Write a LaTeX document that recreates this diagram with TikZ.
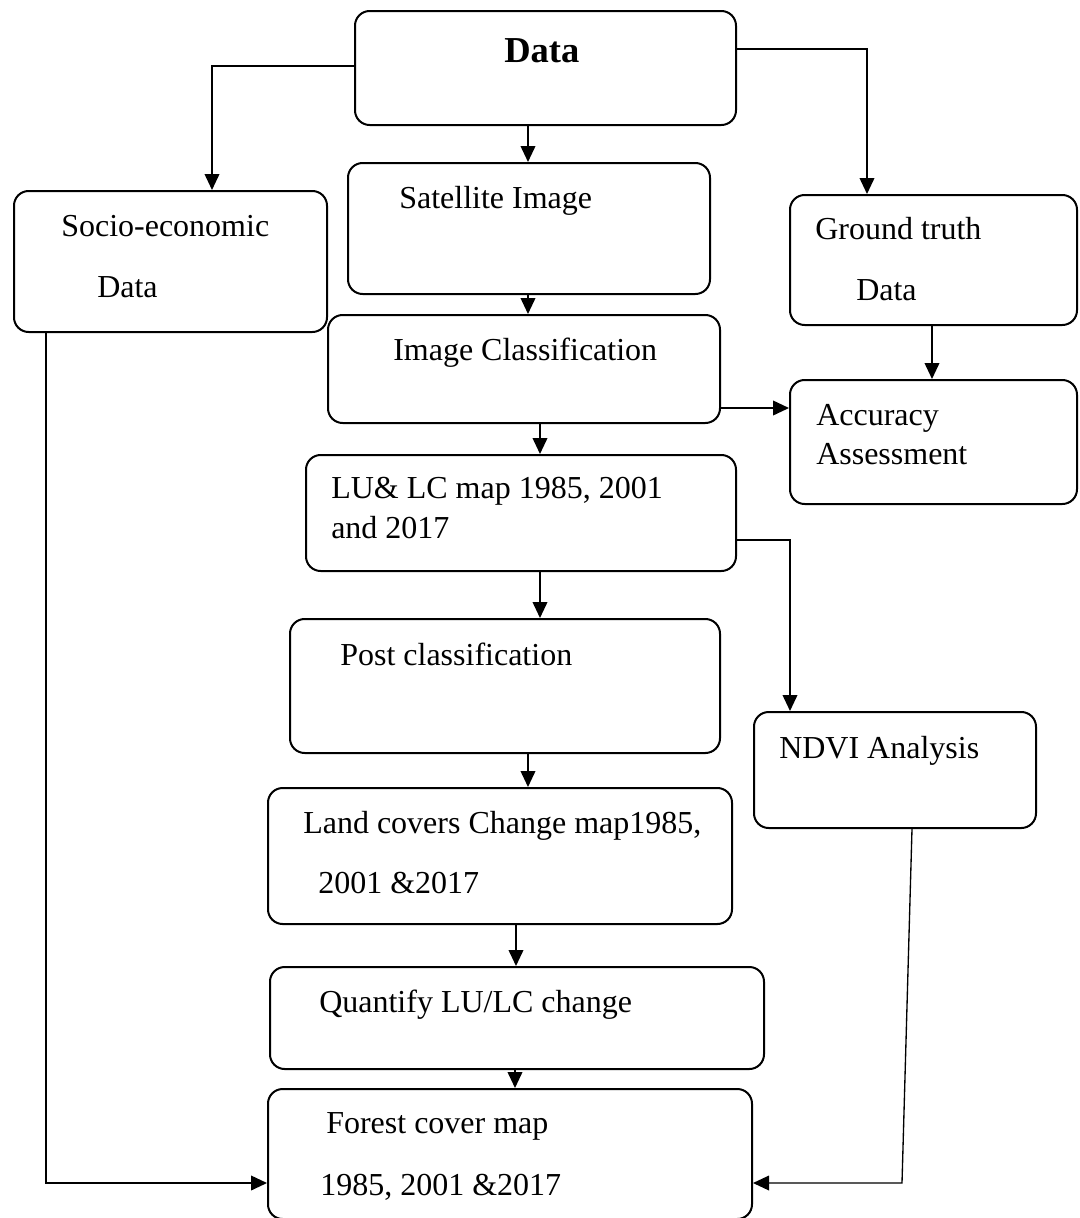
\documentclass[tikz,border=0pt]{standalone}
\usepackage{fontspec}
\setmainfont{Liberation Serif}
\usetikzlibrary{arrows.meta,fit}

\begin{document}
\begin{tikzpicture}[x=0.75pt,y=-0.75pt,>={Triangle[length=12pt,width=11pt]},
  box/.style={draw,line width=1.5pt,rounded corners=11pt,inner sep=0pt},
  txt/.style={anchor=base west,inner sep=0pt,font=\fontsize{24}{28}\selectfont},
  link/.style={->,line width=1.3pt}]
  \useasboundingbox (0,0) rectangle (1080,1218);

  % boxes
  \node (data)   [box,fit={(355,11) (736,125)}] {};
  \node (socio)  [box,fit={(14,191) (327,332)}] {};
  \node (sat)    [box,fit={(348,163) (710,294)}] {};
  \node (gtruth) [box,fit={(790,195) (1077,325)}] {};
  \node (iclass) [box,fit={(328,315) (720,423)}] {};
  \node (acc)    [box,fit={(790,380) (1077,504)}] {};
  \node (lulc)   [box,fit={(306,455) (736,571)}] {};
  \node (post)   [box,fit={(290,619) (720,753)}] {};
  \node (ndvi)   [box,fit={(754,712) (1036,828)}] {};
  \node (land)   [box,fit={(268,788) (732,924)}] {};
  \node (quant)  [box,fit={(270,967) (764,1069)}] {};
  \node (forest) [box,fit={(268,1089) (752,1219)}] {};

  % texts
  \node (tdata)   [txt,font=\fontsize{27.4}{32}\selectfont\bfseries] at (504,62) {Data};
  \node (tsocioa) [txt] at (61,236) {Socio-economic};
  \node (tsociob) [txt] at (97,297) {Data};
  \node (tsat)    [txt] at (399,208) {Satellite Image};
  \node (tgta)    [txt] at (815,239) {Ground truth};
  \node (tgtb)    [txt] at (856,300) {Data};
  \node (ticlass) [txt] at (393,360) {Image Classification};
  \node (tacca)   [txt] at (816,425) {Accuracy};
  \node (taccb)   [txt] at (816,464) {Assessment};
  \node (tlulca)  [txt] at (331,498) {LU\& LC map 1985, 2001};
  \node (tlulcb)  [txt] at (331,538) {and 2017};
  \node (tpost)   [txt] at (340,665) {Post classification};
  \node (tndvi)   [txt] at (779,758) {NDVI Analysis};
  \node (tlanda)  [txt] at (303,833) {Land covers Change map1985,};
  \node (tlandb)  [txt] at (318,893) {2001 \&2017};
  \node (tquant)  [txt] at (319,1012) {Quantify LU/LC change};
  \node (tfora)   [txt] at (326,1133) {Forest cover map};
  \node (tforb)   [txt] at (320,1195) {1985, 2001 \&2017};

  \coordinate (bend) at (902,1183);

  % connectors
  \draw[link] (data.west |- 0,66) -| (socio.north -| 212,0);
  \draw[link] (data.east |- 0,49) -| (gtruth.north -| 867,0);
  \draw[link] (data.south -| 528,0) -- (sat.north -| 528,0);
  \draw[link] (sat.south -| 528,0) -- (iclass.north -| 528,0);
  \draw[link] (iclass.south -| 540,0) -- (lulc.north -| 540,0);
  \draw[link] (iclass.east |- 0,408) -- (acc.west |- 0,408);
  \draw[link] (gtruth.south -| 932,0) -- (acc.north -| 932,0);
  \draw[link] (lulc.east |- 0,540) -| (ndvi.north -| 790,0);
  \draw[link] (lulc.south -| 540,0) -- (post.north -| 540,0);
  \draw[link] (post.south -| 528,0) -- (land.north -| 528,0);
  \draw[link] (land.south -| 516,0) -- (quant.north -| 516,0);
  \draw[link] (quant.south -| 515,0) -- (forest.north -| 515,0);
  \draw[link] (socio.south -| 46,0) |- (forest.west |- 0,1183);
  \draw[link,line width=1pt] (ndvi.south -| 912,0) -- (bend) -- (forest.east |- bend);
\end{tikzpicture}
\end{document}
